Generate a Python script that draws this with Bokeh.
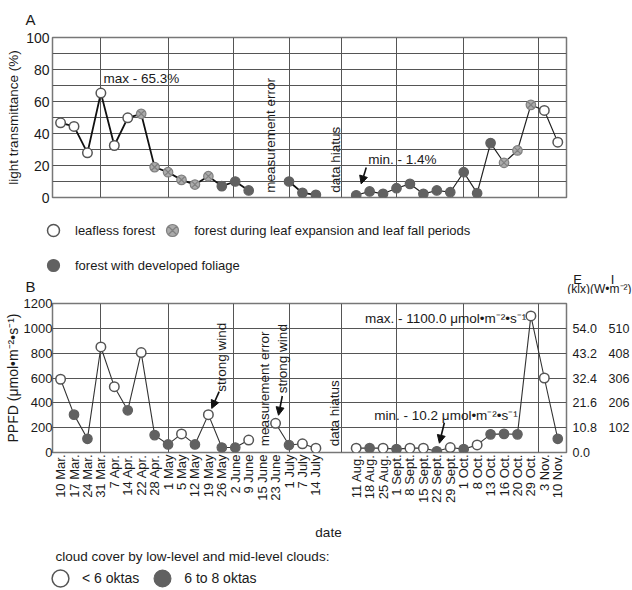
import math
from bokeh.plotting import figure
from bokeh.models import (Range1d, FixedTicker, LinearAxis, Label, Arrow, Title, Plot,
                          NormalHead, Legend, LegendItem)
from bokeh.layouts import column
from bokeh.embed import file_html
from bokeh.resources import INLINE

NaN = float("nan")

# ---------------- data ----------------
dates = ["10 Mar.", "17 Mar.", "24 Mar.", "31 Mar.", "7 Apr.", "14 Apr.", "22 Apr.",
         "28 Apr.", "1 May", "5 May", "12 May", "19 May", "26 May", "2 June", "9 June",
         "15 June", "23 June", "1 July", "7 July", "14 July",
         "11 Aug.", "18 Aug.", "25 Aug.", "1 Sept.", "8 Sept.", "15 Sept.", "22 Sept.",
         "29 Sept.", "1 Oct.", "8 Oct.", "13 Oct.", "16 Oct.", "20 Oct.", "29 Oct.",
         "3 Nov.", "10 Nov."]
# slot of each date on the x axis (two empty slots for the summer data hiatus)
slots = list(range(0, 20)) + list(range(22, 38))

# panel A: light transmittance (%)
transmittance = [46.7, 44.4, 27.9, 65.3, 32.5, 49.8, 52.3, 19.0, 15.8, 11.0, 8.1, 13.3,
                 7.1, 10.0, 4.4, NaN, NaN, 10.0, 2.9, 1.7,
                 1.4, 3.8, 2.3, 5.8, 8.5, 2.3, 4.4, 3.3, 15.8, 2.7, 34.0, 21.7, 29.4,
                 57.9, 54.4, 34.6]
# L = leafless, T = leaf expansion / leaf fall, F = developed foliage
phase = ["L"] * 6 + ["T"] * 6 + ["F"] * 8 + ["F"] * 11 + ["T"] * 3 + ["L"] * 2

# panel B: PPFD (umol m-2 s-1)
ppfd = [590, 305, 110, 850, 530, 340, 805, 140, 65, 150, 65, 305, 40, 40, 100, NaN,
        235, 60, 70, 35,
        35, 35, 35, 27, 35, 35, 10.2, 40, 27, 61, 146, 150, 146, 1100, 600, 110]
# cloud cover: "lo" = < 6 oktas, "hi" = 6 to 8 oktas
cloud = ["lo", "hi", "hi", "lo", "lo", "hi", "lo", "hi", "hi", "lo", "hi", "lo", "hi",
         "hi", "lo", "lo", "lo", "hi", "lo", "lo",
         "lo", "hi", "lo", "hi", "lo", "lo", "hi", "lo", "hi", "lo", "hi", "hi", "hi",
         "lo", "lo", "hi"]

a_ticks = [0, 20, 40, 60, 80, 100]
b_ticks = [0, 200, 400, 600, 800, 1000, 1200]
e_ticks = [0, 200, 400, 600, 800, 1000]
e_labels = ["0.0", "10.8", "21.6", "32.4", "43.2", "54.0"]
i_labels = ["", "102", "206", "306", "408", "510"]

# month boundaries (1 Apr ... 1 Nov) expressed in date slots
month_lines = [3, 8, 12 + 6 / 7, 17, 19 + 3 * 18 / 28, 25, 30, 35 + 3 / 5]

FONT = "Liberation Sans"
GRID = "#555555"
TXT = "#1a1a1a"
XR = (-0.6, 37.65)
W = 632

OPEN = dict(marker="circle", fill_color="white", line_color="#555555", line_width=1.5)
CROSS = dict(marker="circle_x", fill_color="#ababab", line_color="#808080", line_width=1.2)
FILLED = dict(marker="circle", fill_color="#616161", line_color="#616161", line_width=1.2)

HAS_FRAME_ALIGN = "frame_align" in Plot.properties()


def plain_axis(ax):
    ax.axis_line_color = None
    ax.major_tick_line_color = None
    ax.minor_tick_line_color = None
    ax.major_tick_out = 0
    ax.major_tick_in = 0
    ax.minor_tick_out = 0
    ax.major_label_text_font = FONT
    ax.major_label_text_color = TXT
    ax.axis_label_text_font = FONT
    ax.axis_label_text_font_style = "normal"
    ax.axis_label_text_color = TXT


def style(p):
    p.outline_line_color = "#777777"
    p.outline_line_width = 1.5
    p.background_fill_color = "white"
    p.border_fill_color = "white"
    for ax in p.yaxis:
        plain_axis(ax)
    p.xgrid.ticker = FixedTicker(ticks=month_lines)
    p.xgrid.grid_line_color = GRID
    p.ygrid.grid_line_color = GRID


def bare(height):
    """A figure whose frame is the whole canvas (used for texts and legends)."""
    f = figure(width=W, height=height, x_range=Range1d(0, 1), y_range=Range1d(0, 1),
               output_backend="svg", toolbar_location=None, x_axis_location=None,
               y_axis_location=None, min_border_left=0, min_border_right=0,
               min_border_top=0, min_border_bottom=0)
    if HAS_FRAME_ALIGN:
        f.frame_align = False
    f.grid.visible = False
    f.outline_line_color = None
    f.background_fill_color = "white"
    f.border_fill_color = "white"
    return f


def pick(vals, cats, key):
    xs, ys = [], []
    for s, v, c in zip(slots, vals, cats):
        if c == key and not math.isnan(v):
            xs.append(s)
            ys.append(v)
    return xs, ys


def lab(p, x, y, text, size="13.5px", angle=0.0, align="left", units="data"):
    p.add_layout(Label(x=x, y=y, x_units=units, y_units=units, text=text, angle=angle,
                       text_align=align, text_baseline="middle", text_font=FONT,
                       text_font_size=size, text_color=TXT))


def arrow(p, x0, y0, x1, y1):
    p.add_layout(Arrow(end=NormalHead(size=8, fill_color="#111111", line_color="#111111"),
                       x_start=x0, y_start=y0, x_end=x1, y_end=y1,
                       line_width=1.6, line_color="#111111"))


def legend(items, loc, glyph, font, standoff, spacing):
    lg = Legend(items=items, location=loc, orientation="horizontal")
    lg.glyph_width = glyph
    lg.glyph_height = glyph
    lg.padding = 0
    lg.margin = 0
    lg.border_line_color = None
    lg.background_fill_alpha = 0
    lg.label_text_font = FONT
    lg.label_text_font_size = font
    lg.label_text_color = TXT
    lg.label_standoff = standoff
    lg.spacing = spacing
    return lg


# ---------------- panel A ----------------
pA = figure(width=W, height=207, x_range=Range1d(*XR), y_range=Range1d(0, 100),
            output_backend="svg", toolbar_location=None, x_axis_location=None,
            min_border_left=52, min_border_right=66, min_border_top=37,
            min_border_bottom=10)
style(pA)
pA.yaxis.ticker = FixedTicker(ticks=a_ticks)
pA.ygrid.ticker = FixedTicker(ticks=list(range(0, 101, 10)))
pA.yaxis.axis_label = "light transmittance (%)"
pA.yaxis.axis_label_text_font_size = "13.5px"
pA.yaxis.major_label_text_font_size = "14px"
pA.yaxis.major_label_standoff = 3
pA.yaxis.axis_label_standoff = 2

pA.add_layout(Title(text="A", align="left", offset=-27, standoff=16, vertical_align="top",
                    text_font=FONT, text_font_size="15px", text_font_style="normal",
                    text_color=TXT), "above")

pA.line(slots[:20], transmittance[:20], line_color="#111111", line_width=1.8)
pA.line(slots[20:], transmittance[20:], line_color="#222222", line_width=1.2)

x, y = pick(transmittance, phase, "L")
pA.scatter(x, y, size=9.5, **OPEN)
x, y = pick(transmittance, phase, "T")
pA.scatter(x, y, size=9.5, **CROSS)
x, y = pick(transmittance, phase, "F")
pA.scatter(x, y, size=9.5, **FILLED)

lab(pA, 3.2, 74.5, "max - 65.3%")
lab(pA, 15.65, 3, "measurement error", angle=math.pi / 2)
lab(pA, 20.45, 3, "data hiatus", angle=math.pi / 2)
lab(pA, 22.9, 23.8, "min. - 1.4%")
arrow(pA, 22.75, 18.8, 22.37, 8.5)

# ---------------- legend of A + header of B ----------------
pM = bare(87)
# legend keys (one point each, outside the visible range)
kL = pM.scatter([-9], [-9], **OPEN)
kT = pM.scatter([-9], [-9], **CROSS)
kF = pM.scatter([-9], [-9], **FILLED)
pM.add_layout(legend([LegendItem(label="leafless forest", renderers=[kL]),
                      LegendItem(label="forest during leaf expansion and leaf fall periods",
                                 renderers=[kT])], (38, 49), 30, "13px", 7, 2), "center")
pM.add_layout(legend([LegendItem(label="forest with developed foliage", renderers=[kF])],
                     (38, 14), 30, "13px", 7, 2), "center")
lab(pM, 30, 8, "B", size="15px", align="center", units="screen")
lab(pM, 577, 15, "E", size="13px", align="center", units="screen")
lab(pM, 612, 15, "I", size="13px", align="center", units="screen")
lab(pM, 631, 6, "(klx)(W•m⁻²)", size="12px", align="right", units="screen")

# ---------------- panel B ----------------
pB = figure(width=W, height=211, x_range=Range1d(*XR), y_range=Range1d(0, 1200),
            output_backend="svg", toolbar_location=None,
            min_border_left=52, min_border_right=66, min_border_top=9,
            min_border_bottom=52)
style(pB)
pB.yaxis.ticker = FixedTicker(ticks=b_ticks)
pB.ygrid.ticker = FixedTicker(ticks=b_ticks)
pB.yaxis.axis_label = "PPFD (μmol•m⁻²•s⁻¹)"
pB.yaxis.axis_label_text_font_size = "14px"
pB.yaxis.major_label_text_font_size = "13px"
pB.yaxis.major_label_standoff = 0
pB.yaxis.axis_label_standoff = 0

xa = pB.xaxis[0]
plain_axis(xa)
xa.ticker = FixedTicker(ticks=slots)
xa.major_label_overrides = {s: d for s, d in zip(slots, dates)}
xa.major_label_orientation = math.pi / 2
xa.major_label_text_font_size = "13px"
xa.major_label_standoff = 2
xa.axis_label_standoff = 0

for ticks, labels, standoff in ((e_ticks, e_labels, 6), (e_ticks, i_labels, 9)):
    ax = LinearAxis(ticker=FixedTicker(ticks=ticks),
                    major_label_overrides={t: l for t, l in zip(ticks, labels)})
    plain_axis(ax)
    ax.major_label_standoff = standoff
    ax.axis_label_standoff = 0
    ax.major_label_text_font_size = "12.5px"
    pB.add_layout(ax, "right")

pB.line(slots[:20], ppfd[:20], line_color="#333333", line_width=1.1)
pB.line(slots[20:], ppfd[20:], line_color="#333333", line_width=1.1)

x, y = pick(ppfd, cloud, "lo")
pB.scatter(x, y, size=9.5, **OPEN)
x, y = pick(ppfd, cloud, "hi")
pB.scatter(x, y, size=9.5, **FILLED)

lab(pB, 11.95, 490, "strong wind", angle=math.pi / 2)
arrow(pB, 11.8, 490, 11.25, 355)
lab(pB, 15.16, 50, "measurement error", angle=math.pi / 2)
lab(pB, 16.53, 478, "strong wind", angle=math.pi / 2)
arrow(pB, 16.5, 455, 16.22, 300)
lab(pB, 20.38, 50, "data hiatus", angle=math.pi / 2)
lab(pB, 34.65, 1080, "max. - 1100.0 μmol•m⁻²•s⁻¹", align="right")
lab(pB, 23.35, 296, "min. - 10.2 μmol•m⁻²•s⁻¹")
arrow(pB, 28.56, 240, 28.19, 75)

# ---------------- x title + legend of B ----------------
pF = bare(85)
kLo = pF.scatter([-9], [-9], **OPEN)
kHi = pF.scatter([-9], [-9], **FILLED)
lab(pF, 328, 58, "date", size="13.5px", align="center", units="screen")
lab(pF, 55, 34, "cloud cover by low-level and mid-level clouds:", size="13.5px",
    units="screen")
pF.add_layout(legend([LegendItem(label="< 6 oktas", renderers=[kLo]),
                      LegendItem(label="6 to 8 oktas", renderers=[kHi])],
                     (39, -9), 42, "14px", 1, 2), "center")

p = column(pA, pM, pB, pF, spacing=0)
open("out.html", "w").write(file_html(p, INLINE))
